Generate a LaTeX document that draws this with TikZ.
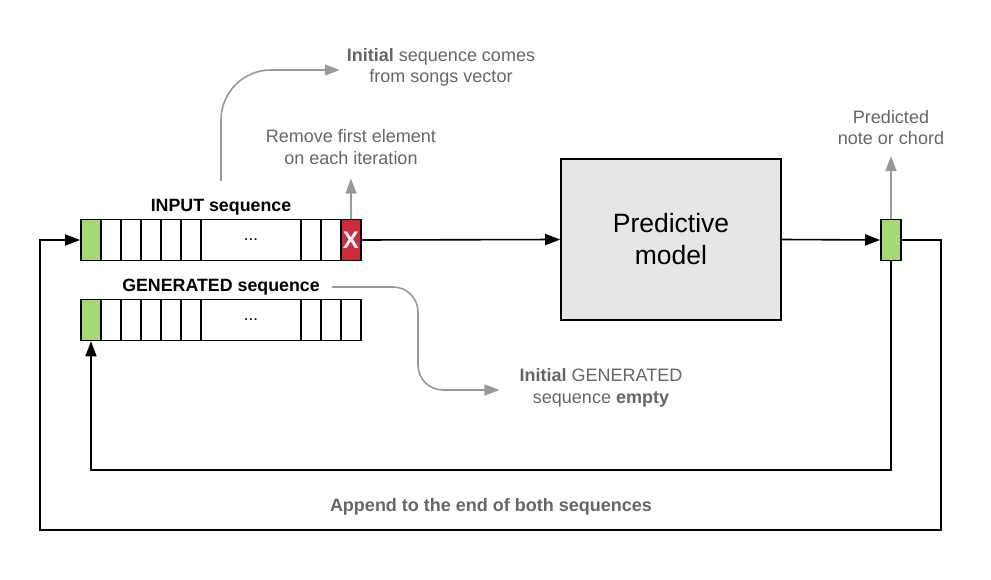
\documentclass[tikz,border=0pt]{standalone}
\usepackage{fontspec}
\setmainfont{Liberation Sans}
\usetikzlibrary{arrows.meta}
\definecolor{cgreen}{HTML}{A3D977}
\definecolor{cred}{HTML}{CC2B3C}
\definecolor{cmodel}{HTML}{E6E6E6}
\definecolor{ctext}{HTML}{666666}
\definecolor{carrow}{HTML}{999999}
\tikzset{
  cell/.style={draw=black, line width=1.6pt, minimum width=20pt, minimum height=41pt, inner sep=0pt, fill=white},
  bigcell/.style={cell, minimum width=100pt, font=\fontsize{17pt}{20pt}\selectfont},
  greencell/.style={cell, fill=cgreen},
  redcell/.style={cell, fill=cred, text=white, font=\fontsize{24pt}{26pt}\selectfont\bfseries},
  seqlabel/.style={inner sep=0pt, font=\fontsize{17.8pt}{20pt}\selectfont\bfseries},
  note/.style={inner sep=0pt, align=center, text=ctext, font=\fontsize{18pt}{21.5pt}\selectfont},
  blk/.style={draw=black, line width=1.6pt, -{Triangle[length=15pt,width=11pt]}},
  gry/.style={draw=carrow, line width=1.6pt, -{Triangle[length=15pt,width=11pt]}},
}
\begin{document}
\begin{tikzpicture}[x=1pt,y=-1pt]
\useasboundingbox (0,0) rectangle (991,580);
% INPUT sequence
\node[greencell] (in1) at (91,240) {};
\node[cell] (in2) at (111,240) {};
\node[cell] (in3) at (131,240) {};
\node[cell] (in4) at (151,240) {};
\node[cell] (in5) at (171,240) {};
\node[cell] (in6) at (191,240) {};
\node[bigcell] (in7) at (251,240) {...};
\node[cell] (in8) at (311,240) {};
\node[cell] (in9) at (331,240) {};
\node[redcell] (inx) at (351,240) {X};
\node[seqlabel] (inlabel) at (221,207) {INPUT sequence};
% GENERATED sequence
\node[greencell] (gen1) at (91,320) {};
\node[cell] (gen2) at (111,320) {};
\node[cell] (gen3) at (131,320) {};
\node[cell] (gen4) at (151,320) {};
\node[cell] (gen5) at (171,320) {};
\node[cell] (gen6) at (191,320) {};
\node[bigcell] (gen7) at (251,320) {...};
\node[cell] (gen8) at (311,320) {};
\node[cell] (gen9) at (331,320) {};
\node[cell] (gen10) at (351,320) {};
\node[seqlabel] (genlabel) at (221,287) {GENERATED sequence};
% model
\node[draw=black, line width=1.6pt, fill=cmodel, minimum width=220pt, minimum height=161pt, align=center,
      font=\fontsize{26.5pt}{32pt}\selectfont] (model) at (671,239.5) {Predictive\\model};
% output
\node[greencell] (out) at (891,240) {};
% notes
\node[note] (songs) at (441,67.5) {\textbf{Initial} sequence comes\\from songs vector};
\node[note] (remove) at (351,147) {Remove first element\\on each iteration};
\node[note] (pred) at (891,127.5) {Predicted\\note or chord};
\node[note] (empty) at (601,388) {\textbf{Initial} GENERATED\\sequence \textbf{empty}};
\node[note, font=\fontsize{18pt}{21.5pt}\selectfont\bfseries] (append) at (491,507) {Append to the end of both sequences};
% coordinates
\coordinate (ro) at (941,530);
\coordinate (lo) at (40,530);
\coordinate (li) at (91,470);
\coordinate (songsstart) at (221,181);
\coordinate (gbend) at (418,287);
% main connectors
\draw[blk] (inx.east) -- (model.west);
\draw[blk] (model.east) -- (out.west);
\draw[blk] (out.east) -| (ro) -- (lo) |- (in1.west);
\draw[blk] (out.south) |- (li) -- (gen1.south);
% gray connectors
\draw[gry] (inx.north) -- ([yshift=-14pt]remove.south);
\draw[gry] (out.north) -- ([yshift=-11pt]pred.south);
\draw[gry, rounded corners=50pt] (songsstart) |- ([xshift=-7pt,yshift=-2.5pt]songs.west);
\draw[gry, rounded corners=25pt] ([xshift=12pt]genlabel.east) -- (gbend) |- ([xshift=-20pt,yshift=-2pt]empty.west);
\end{tikzpicture}
\end{document}
